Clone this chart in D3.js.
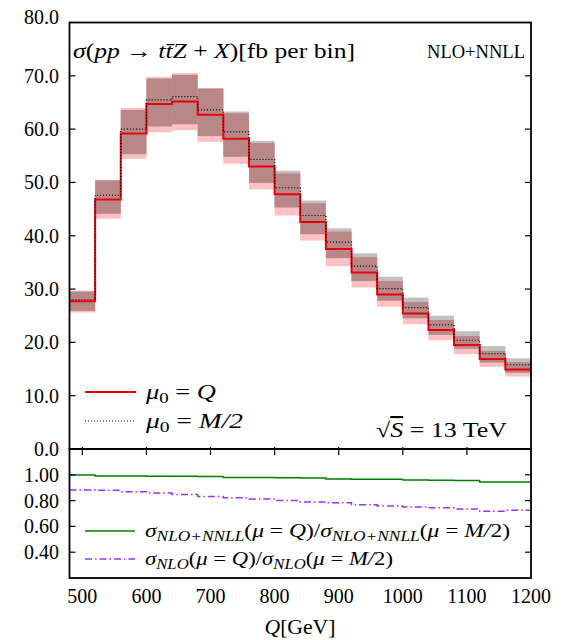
<!DOCTYPE html>
<html><head><meta charset="utf-8">
<script src="https://cdn.jsdelivr.net/npm/d3@7"></script>
<style>
html,body{margin:0;padding:0;background:#fff;}
text{font-family:"Liberation Serif","DejaVu Serif",serif;fill:#000;}
.it{font-style:italic;}
</style></head>
<body><svg id="chart" width="563" height="640"></svg>
<script>
// ---------- data ----------
const binEdges = [480,520,560,600,640,680,720,760,800,840,880,920,960,1000,1040,1080,1120,1160,1200];
// mu0 = Q (NLO+NNLL), central and scale band
const qCentral = [27.7,46.8,59.2,64.7,65.2,62.7,58.2,53.0,47.8,42.6,37.5,33.1,29.0,25.4,22.3,19.5,16.9,14.9];
const qLow     = [25.6,43.2,54.4,59.4,59.8,57.6,53.5,48.7,43.8,39.1,34.3,30.3,26.7,23.4,20.4,17.8,15.4,13.6];
const qHigh    = [29.5,50.5,64.0,69.8,70.5,67.7,63.0,57.4,51.7,46.1,40.8,36.0,31.5,27.6,24.2,21.2,18.4,16.3];
// mu0 = M/2
const mCentral = [28.0,47.6,60.0,65.5,66.1,63.6,59.5,54.3,49.0,43.8,38.8,34.3,30.1,26.5,23.3,20.4,17.9,15.8];
const mLow     = [25.9,44.1,55.3,60.5,60.9,58.7,54.8,49.9,45.3,40.3,35.8,31.5,27.8,24.5,21.4,18.8,16.2,14.3];
const mHigh    = [29.7,50.4,63.6,69.5,70.2,67.6,63.3,57.8,52.2,46.6,41.4,36.7,32.3,28.4,25.0,22.1,19.3,17.0];
// ratios
const ratioNNLL = [0.998,0.990,0.990,0.988,0.988,0.987,0.980,0.979,0.977,0.975,0.968,0.966,0.965,0.960,0.958,0.956,0.945,0.944];
const ratioNLO  = [0.883,0.880,0.868,0.858,0.848,0.832,0.822,0.812,0.800,0.790,0.783,0.768,0.758,0.750,0.744,0.735,0.718,0.726];
const mainTicks  = [0,10,20,30,40,50,60,70,80];
const ratioTicks = [0.4,0.6,0.8,1.0];
const xTicks     = [500,600,700,800,900,1000,1100,1200];

// ---------- layout ----------
const svg = d3.select("#chart");
const L = 69.5, R = 531, T = 22.5, MB = 449, RB = 578;
const x  = d3.scaleLinear().domain([480,1200]).range([L,R]);
const y  = d3.scaleLinear().domain([0,80]).range([MB,T]);
const yr = d3.scaleLinear().domain([0.2,1.2]).range([RB,MB]);

const colGray = "#c0c0c0", colPink = "#ffc0c4", colDark = "#b88889";

const bins = qCentral.map((d,i)=>({x0:binEdges[i],x1:binEdges[i+1],i}));
const g = svg.append("g");
// bands
g.selectAll("rect.gray").data(bins).join("rect")
  .attr("x",d=>x(d.x0)).attr("width",d=>x(d.x1)-x(d.x0))
  .attr("y",d=>y(mHigh[d.i])).attr("height",d=>y(mLow[d.i])-y(mHigh[d.i]))
  .attr("fill",colGray);
g.selectAll("rect.pink").data(bins).join("rect")
  .attr("x",d=>x(d.x0)).attr("width",d=>x(d.x1)-x(d.x0))
  .attr("y",d=>y(qHigh[d.i])).attr("height",d=>y(qLow[d.i])-y(qHigh[d.i]))
  .attr("fill",colPink);
g.selectAll("rect.dark").data(bins).join("rect")
  .attr("x",d=>x(d.x0)).attr("width",d=>x(d.x1)-x(d.x0))
  .attr("y",d=>y(Math.min(qHigh[d.i],mHigh[d.i])))
  .attr("height",d=>y(Math.max(qLow[d.i],mLow[d.i]))-y(Math.min(qHigh[d.i],mHigh[d.i])))
  .attr("fill",colDark);

function stepPts(vals){ const p = vals.map((v,i)=>[binEdges[i],v]); p.push([binEdges[binEdges.length-1],vals[vals.length-1]]); return p; }
const lineMain = d3.line().x(d=>x(d[0])).y(d=>y(d[1])).curve(d3.curveStepAfter);
const lineRatio = d3.line().x(d=>x(d[0])).y(d=>yr(d[1])).curve(d3.curveStepAfter);

g.append("path").attr("d",lineMain(stepPts(qCentral))).attr("fill","none").attr("stroke","#e8000b").attr("stroke-width",2);
g.append("path").attr("d",lineMain(stepPts(mCentral))).attr("fill","none").attr("stroke","#000").attr("stroke-width",1.2).attr("stroke-dasharray","1,2");

g.append("path").attr("d",lineRatio(stepPts(ratioNNLL))).attr("fill","none").attr("stroke","#008000").attr("stroke-width",1.5);
g.append("path").attr("d",lineRatio(stepPts(ratioNLO))).attr("fill","none").attr("stroke","#9b30ff").attr("stroke-width",1.5).attr("stroke-dasharray","7,3,1.5,3");

// ---------- axes ----------
const tickLen = 6;
const axG = svg.append("g").attr("stroke","#000").attr("stroke-width",1.2);
mainTicks.filter(t=>t>0&&t<80).forEach(t=>{
  axG.append("line").attr("x1",L).attr("x2",L+tickLen).attr("y1",y(t)).attr("y2",y(t));
  axG.append("line").attr("x1",R).attr("x2",R-tickLen).attr("y1",y(t)).attr("y2",y(t));
});
ratioTicks.forEach(t=>{
  axG.append("line").attr("x1",L).attr("x2",L+tickLen).attr("y1",yr(t)).attr("y2",yr(t));
  axG.append("line").attr("x1",R).attr("x2",R-tickLen).attr("y1",yr(t)).attr("y2",yr(t));
});
xTicks.filter(t=>t<1200).forEach(t=>{
  axG.append("line").attr("x1",x(t)).attr("x2",x(t)).attr("y1",MB).attr("y2",MB+tickLen);
  axG.append("line").attr("x1",x(t)).attr("x2",x(t)).attr("y1",MB).attr("y2",MB-2);
});
// frames
svg.append("rect").attr("x",L).attr("y",T).attr("width",R-L).attr("height",MB-T).attr("fill","none").attr("stroke","#000").attr("stroke-width",1.8);
svg.append("rect").attr("x",L).attr("y",MB).attr("width",R-L).attr("height",RB-MB).attr("fill","none").attr("stroke","#000").attr("stroke-width",1.8);

// tick labels
const fs = 20;
mainTicks.forEach(t=>{
  svg.append("text").attr("x",59).attr("y",t===80? y(t)-6 : y(t)).attr("dy","0.35em")
    .attr("text-anchor","end").attr("font-size",fs).text(d3.format(".1f")(t));
});
ratioTicks.forEach(t=>{
  svg.append("text").attr("x",59).attr("y",yr(t)).attr("dy","0.35em")
    .attr("text-anchor","end").attr("font-size",fs).text(d3.format(".2f")(t));
});
xTicks.forEach(t=>{
  svg.append("text").attr("x",x(t)).attr("y",603).attr("text-anchor","middle").attr("font-size",fs).text(t);
});
const LA = "spacingAndGlyphs";
// x label
const xl = svg.append("text").attr("x",300).attr("y",634).attr("text-anchor","middle").attr("font-size",21)
  .attr("textLength",71).attr("lengthAdjust",LA);
xl.append("tspan").attr("class","it").text("Q");
xl.append("tspan").text("[GeV]");

// title
const tt = svg.append("text").attr("x",73).attr("y",58).attr("font-size",21)
  .attr("textLength",282).attr("lengthAdjust",LA);
tt.append("tspan").attr("class","it").text("σ");
tt.append("tspan").text("(");
tt.append("tspan").attr("class","it").text("pp");
tt.append("tspan").text(" → ");
tt.append("tspan").attr("class","it").text("tt\u0304Z");
tt.append("tspan").text(" + ");
tt.append("tspan").attr("class","it").text("X");
tt.append("tspan").text(")[fb per bin]");

svg.append("text").attr("x",427).attr("y",58).attr("font-size",18)
  .attr("textLength",98).attr("lengthAdjust",LA).text("NLO+NNLL");

// sqrt S
const ss = svg.append("text").attr("x",376).attr("y",437).attr("font-size",21)
  .attr("textLength",131).attr("lengthAdjust",LA);
ss.append("tspan").text("√");
ss.append("tspan").attr("class","it").style("text-decoration","overline").text("S");
ss.append("tspan").text(" = 13 TeV");

// main legend
svg.append("line").attr("x1",85).attr("x2",136).attr("y1",392).attr("y2",392).attr("stroke","#e8000b").attr("stroke-width",2);
svg.append("line").attr("x1",85).attr("x2",136).attr("y1",421).attr("y2",421).attr("stroke","#000").attr("stroke-width",1.2).attr("stroke-dasharray","1,2");
function muText(yy, rhs, len){
  const t = svg.append("text").attr("x",146).attr("y",yy).attr("font-size",21)
    .attr("textLength",len).attr("lengthAdjust",LA);
  t.append("tspan").attr("class","it").text("μ");
  t.append("tspan").attr("font-size",15).attr("dy",4).text("0");
  t.append("tspan").attr("dy",-4).text(" = ");
  t.append("tspan").attr("class","it").text(rhs);
}
muText(399,"Q",70);
muText(428,"M/2",97);

// ratio legend
svg.append("line").attr("x1",85).attr("x2",135).attr("y1",531).attr("y2",531).attr("stroke","#008000").attr("stroke-width",1.5);
svg.append("line").attr("x1",85).attr("x2",135).attr("y1",559).attr("y2",559).attr("stroke","#9b30ff").attr("stroke-width",1.5).attr("stroke-dasharray","7,3,1.5,3");
function sig(t, sub){
  t.append("tspan").attr("class","it").text("σ");
  t.append("tspan").attr("class","it").attr("font-size",14).attr("dy",4).text(sub);
  t.append("tspan").attr("dy",-4).text("(");
}
function ratioText(yy, sub, len){
  const t = svg.append("text").attr("x",145).attr("y",yy).attr("font-size",19)
    .attr("textLength",len).attr("lengthAdjust",LA);
  sig(t, sub);
  t.append("tspan").attr("class","it").text("μ");
  t.append("tspan").text(" = ");
  t.append("tspan").attr("class","it").text("Q");
  t.append("tspan").text(")/");
  sig(t, sub);
  t.append("tspan").attr("class","it").text("μ");
  t.append("tspan").text(" = ");
  t.append("tspan").attr("class","it").text("M/");
  t.append("tspan").text("2)");
}
ratioText(537,"NLO+NNLL",365);
ratioText(565,"NLO",248);
</script></body></html>
